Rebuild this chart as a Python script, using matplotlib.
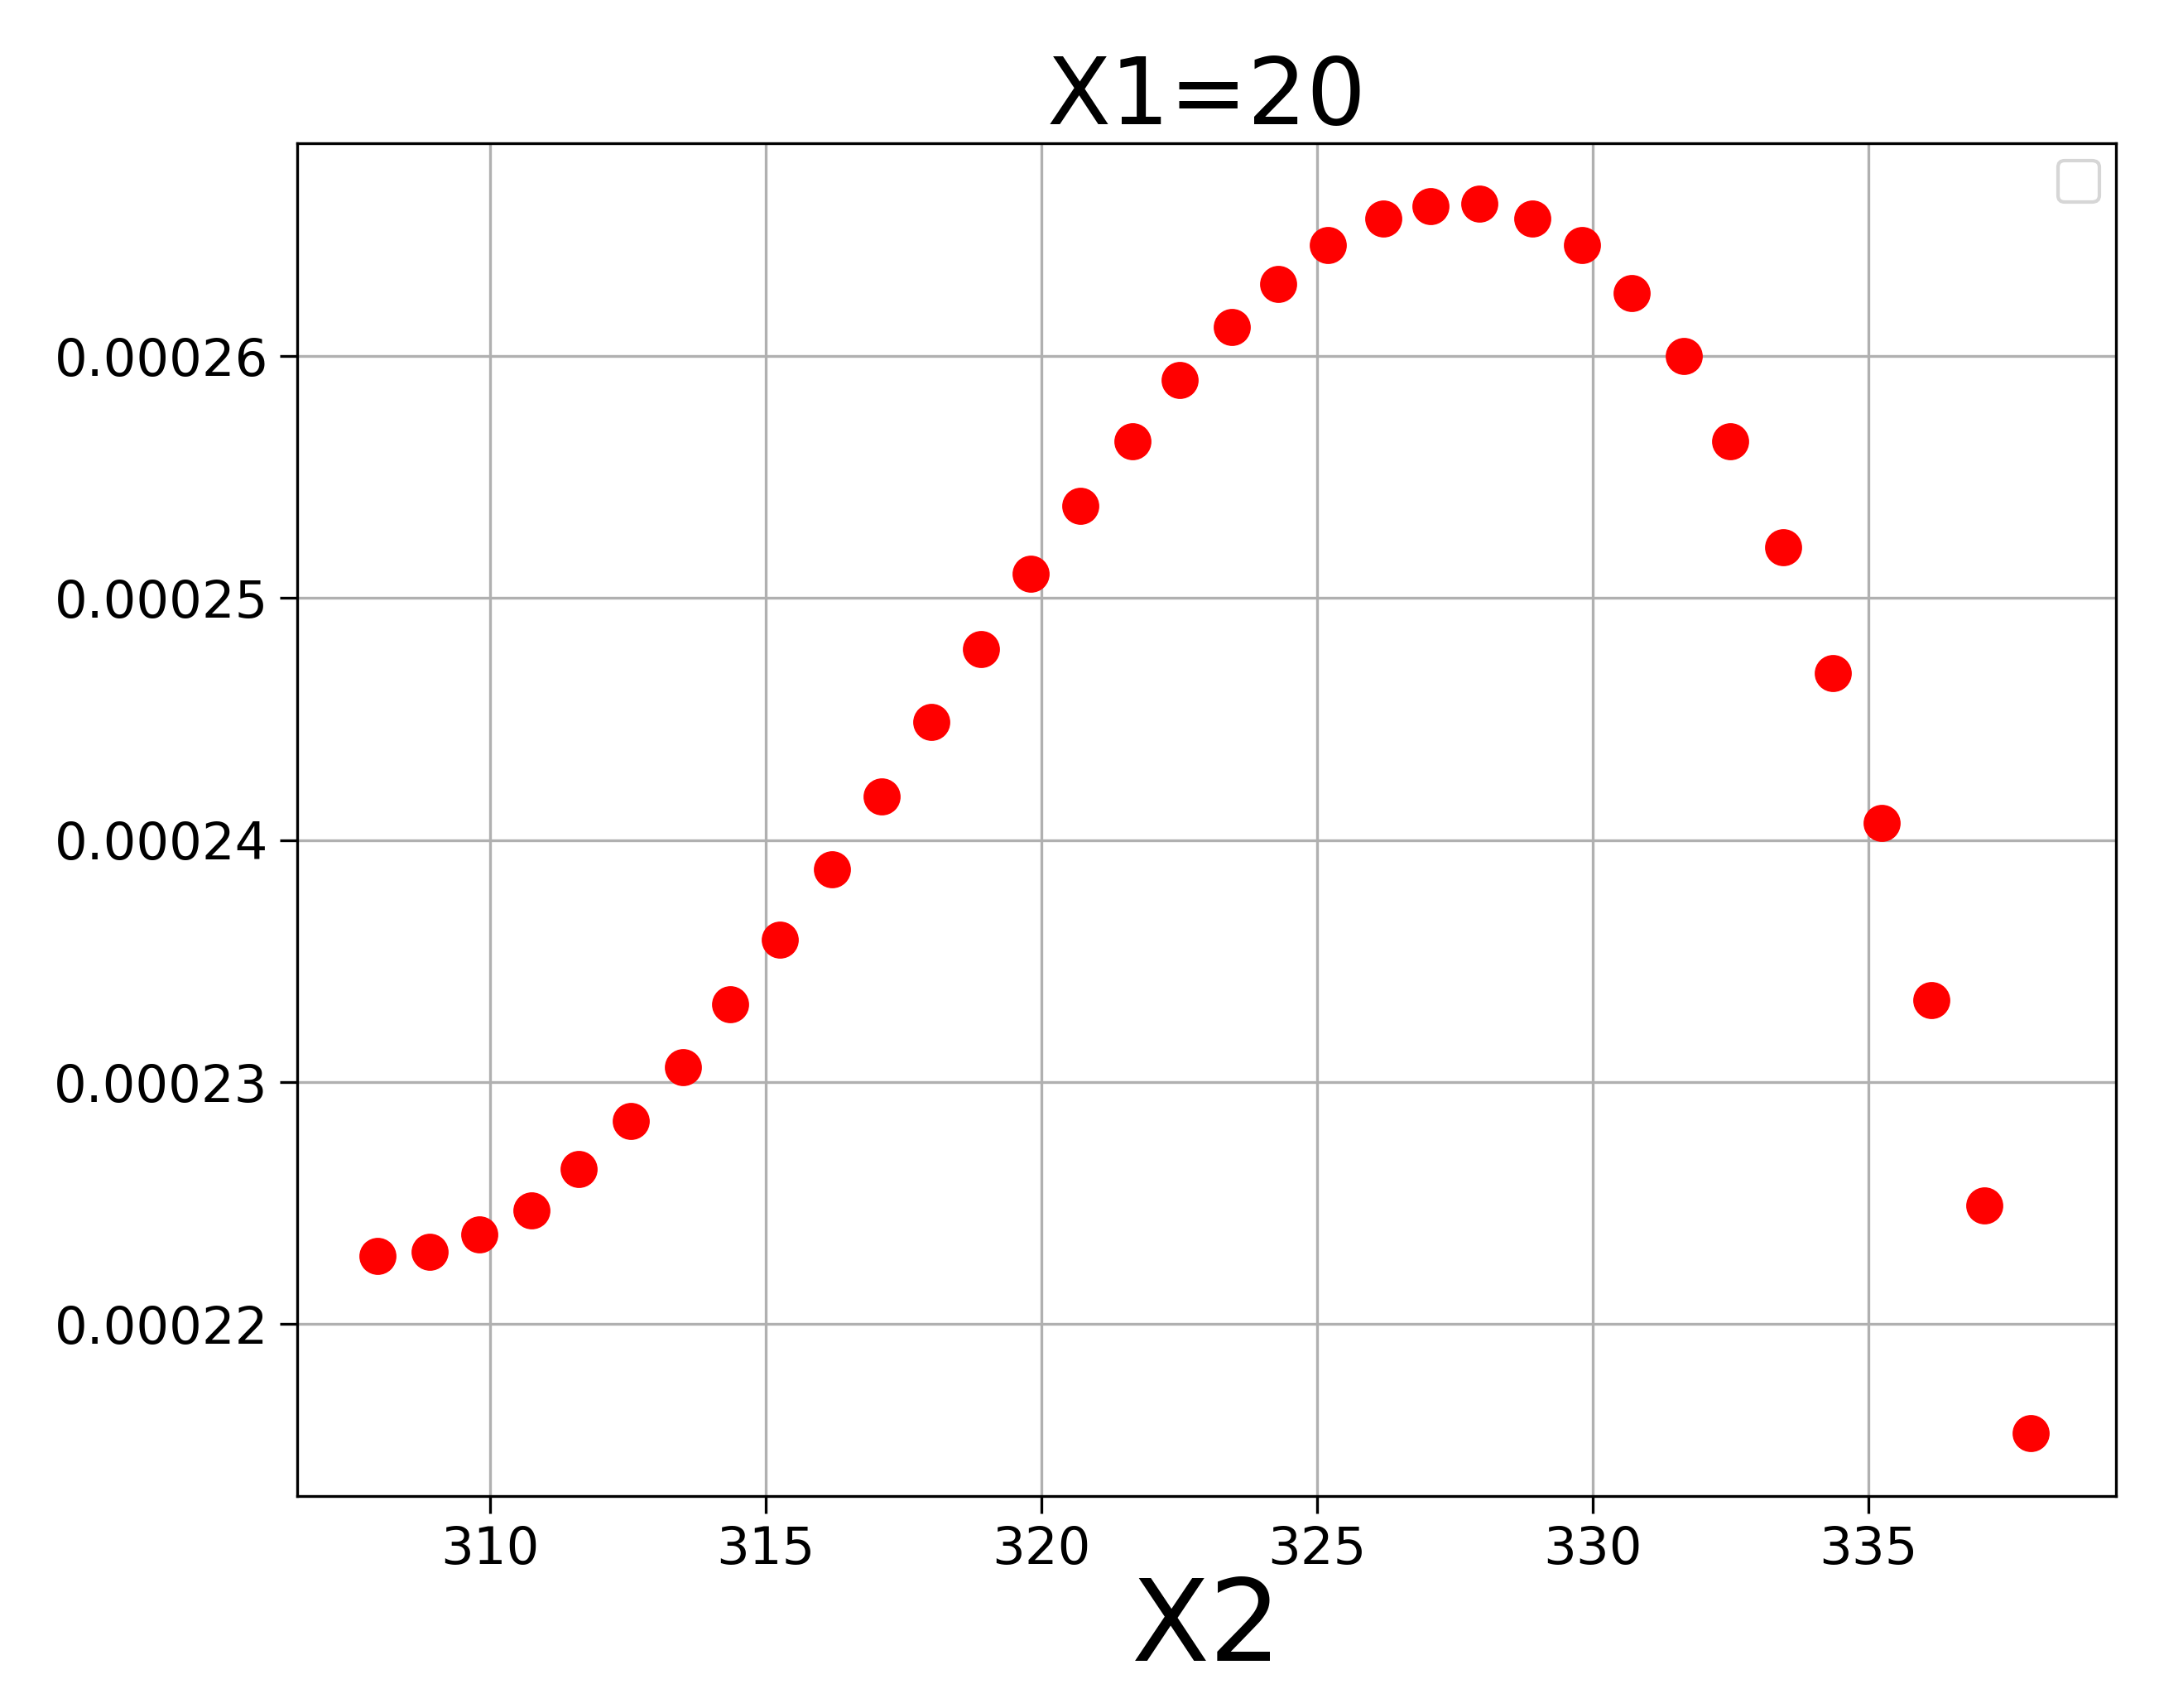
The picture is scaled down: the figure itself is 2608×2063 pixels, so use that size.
import matplotlib
matplotlib.use("Agg")
import matplotlib.pyplot as plt

x2 = [307.95, 308.9, 309.8, 310.75, 311.6, 312.55, 313.5, 314.35, 315.25, 316.2,
      317.1, 318.0, 318.9, 319.8, 320.7, 321.65, 322.5, 323.45, 324.3, 325.2,
      326.2, 327.05, 327.95, 328.9, 329.8, 330.7, 331.65, 332.5, 333.45, 334.35,
      335.25, 336.15, 337.1, 337.95]
values = [0.0002228, 0.0002230, 0.0002237, 0.0002247, 0.0002264, 0.0002284, 0.0002306,
          0.0002332, 0.0002359, 0.0002388, 0.0002418, 0.0002449, 0.0002479, 0.0002510,
          0.0002538, 0.0002565, 0.0002590, 0.0002612, 0.0002630, 0.0002646, 0.0002657,
          0.0002662, 0.0002663, 0.0002657, 0.0002646, 0.0002626, 0.0002600, 0.0002565,
          0.0002521, 0.0002469, 0.0002407, 0.0002334, 0.0002249, 0.0002155]

fig, ax = plt.subplots(figsize=(2608 / 300, 2063 / 300), dpi=300)
fig.subplots_adjust(left=216 / 1568, right=1537 / 1568, top=1 - 104 / 1240, bottom=1 - 1086 / 1240)

ax.scatter(x2, values, color="red", s=95, zorder=3)
ax.set_xlim(306.5, 339.5)
ax.set_ylim(0.0002129, 0.0002688)
ax.set_xticks([310, 315, 320, 325, 330, 335])
ax.set_yticks([0.00022, 0.00023, 0.00024, 0.00025, 0.00026])
ax.set_yticklabels(["0.00022", "0.00023", "0.00024", "0.00025", "0.00026"])
ax.tick_params(labelsize=15, length=5)
ax.grid(True, color="#b0b0b0")
ax.set_axisbelow(True)
ax.set_title("X1=20", fontsize=27, pad=4)
ax.set_xlabel("X2", fontsize=33, labelpad=0)
ax.legend(handles=[], loc="upper right", borderpad=0.6)

fig.savefig("out.png", dpi=300)
